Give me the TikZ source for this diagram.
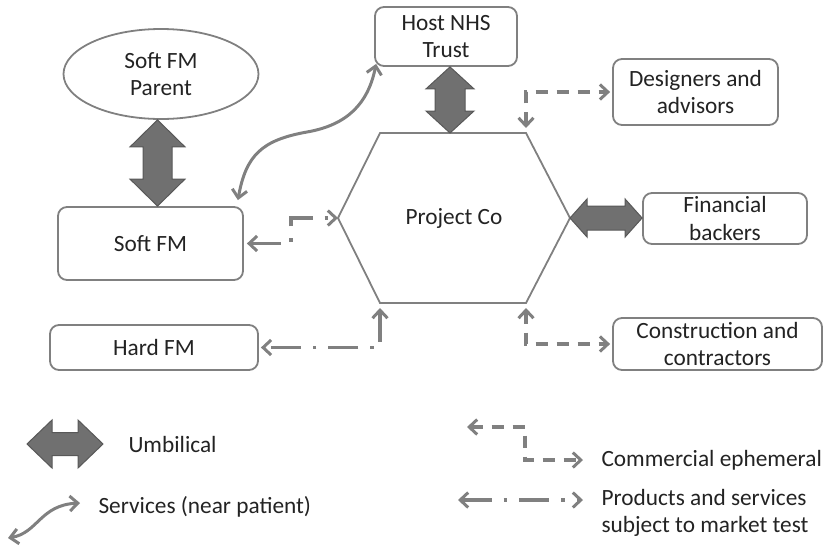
\documentclass[tikz,border=0pt]{standalone}
\usepackage{fontspec}
\setmainfont{Carlito}
\usetikzlibrary{arrows.meta,shapes.geometric,calc}
\definecolor{ln}{RGB}{128,128,128}
\definecolor{umbfill}{RGB}{112,112,112}
\definecolor{umbline}{RGB}{88,88,88}
\definecolor{txt}{RGB}{35,35,35}

% vertical double block arrow: #1 top point, #2 bottom point (y only),
% #3 half shaft width, #4 half head width, #5 head length
\newcommand\umbV[5]{\path[umb] let \p1=#1, \p2=#2 in
  (\x1,\y1) -- (\x1+#4,\y1-#5) -- (\x1+#3,\y1-#5) -- (\x1+#3,\y2+#5)
  -- (\x1+#4,\y2+#5) -- (\x1,\y2) -- (\x1-#4,\y2+#5) -- (\x1-#3,\y2+#5)
  -- (\x1-#3,\y1-#5) -- (\x1-#4,\y1-#5) -- cycle;}
% horizontal double block arrow: #1 left point, #2 right point (x only)
\newcommand\umbH[5]{\path[umb] let \p1=#1, \p2=#2 in
  (\x1,\y1) -- (\x1+#5,\y1+#4) -- (\x1+#5,\y1+#3) -- (\x2-#5,\y1+#3)
  -- (\x2-#5,\y1+#4) -- (\x2,\y1) -- (\x2-#5,\y1-#4) -- (\x2-#5,\y1-#3)
  -- (\x1+#5,\y1-#3) -- (\x1+#5,\y1-#4) -- cycle;}

\tikzset{
  every node/.style={text=txt, font=\fontsize{23.3}{27.5}\selectfont},
  box/.style={draw=ln, line width=1.8pt, rounded corners=9pt, fill=white,
    align=center, inner sep=0pt},
  umb/.style={draw=umbline, fill=umbfill, line width=1pt, line join=miter},
  hexl/.style={draw=ln, line width=1.8pt},
  tipb/.tip={Straight Barb[length=8pt,width=15pt,line width=3pt]},
  ce/.style={draw=ln, line width=3.5pt, dash pattern=on 12pt off 9pt, {tipb}-{tipb}},
  pm/.style={draw=ln, line width=3.5pt, dash pattern=on 30pt off 12pt on 3.5pt off 12pt, {tipb}-{tipb}},
  sv/.style={draw=ln, line width=3pt, {tipb}-{tipb}},
}

\begin{document}
\begin{tikzpicture}[x=1pt,y=1pt]
\useasboundingbox (0,0) rectangle (826,-555);

% organisations
\node[draw=ln, line width=1.8pt, ellipse, minimum width=195pt, minimum height=90pt,
  inner sep=0pt, align=center] (par) at (161,-74) {Soft FM\\Parent};
\node[box, minimum width=185pt, minimum height=73pt] (soft) at (150.5,-243.5) {Soft FM};
\node[box, minimum width=142pt, minimum height=59pt] (host) at (446,-36.5) {Host NHS\\Trust};
\node[box, minimum width=165pt, minimum height=66pt] (des) at (695.5,-92) {Designers and\\advisors};
\node[box, minimum width=164pt, minimum height=51pt] (fin) at (725,-218.5) {Financial\\backers};
\node[box, minimum width=209pt, minimum height=52pt] (con) at (717.5,-344) {Construction and\\contractors};
\node[box, minimum width=208pt, minimum height=45pt] (hard) at (154,-347.5) {Hard FM};

% Project Co hexagon
\coordinate (hTL) at (380,-133);
\coordinate (hTR) at (526,-133);
\coordinate (hR)  at (570,-218);
\coordinate (hBR) at (526,-303);
\coordinate (hBL) at (380,-303);
\coordinate (hL)  at (338,-218);
\draw[hexl] (hTL) -- (hTR) -- (hR) -- (hBR) -- (hBL) -- (hL) -- cycle;
\node (pc) at (454,-218) {Project Co};

% umbilical links
\umbV{([xshift=-3.5pt]par.south)}{(soft.north)}{14.5pt}{27.5pt}{27pt}
\umbV{([xshift=4pt]host.south)}{(hTL)}{15pt}{24pt}{22pt}
\umbH{(hR)}{(fin.west)}{12pt}{19pt}{17pt}

% commercial ephemeral links
\draw[ce] ([yshift=5pt]hTR) |- ([xshift=-2pt]des.west);
\draw[ce] ([yshift=-5pt]hBR) |- ([xshift=-2pt]con.west);

% products and services subject to market test
\draw[pm] ([xshift=3pt]soft.east) -| ($(soft.east)!0.5!(hL)$) |- (hL);
\draw[pm] ([yshift=-5pt]hBL) |- ([xshift=2pt]hard.east);

% services (near patient)
\coordinate (sa) at ([shift={(-6pt,6pt)}]soft.north east);
\coordinate (sb) at ([shift={(2pt,3pt)}]host.south west);
\coordinate (sm) at ($(sa)!0.5!(sb)$);
\draw[sv] (sa) .. controls +(8,45) and +(-45,-8) .. (sm)
  .. controls +(40,7) and +(-8,-40) .. (sb);

% legend
\coordinate (lu1) at (27,-444);
\coordinate (lu2) at (103,-444);
\umbH{(lu1)}{(lu2)}{11.5pt}{24pt}{25pt}
\node[anchor=west] (lumb) at (125,-444) {Umbilical};

\coordinate (ls1) at (8,-538);
\coordinate (ls2) at (80,-503);
\draw[sv] (ls1) .. controls (38,-533) and (40,-505) .. (ls2);
\node[anchor=west] (lsv) at (95,-507) {Services (near patient)};

\coordinate (lc1) at (467,-427);
\coordinate (lc2) at (583,-460);
\draw[ce] (lc1) -| ($(lc1)!0.5!(lc2)$) |- (lc2);
\node[anchor=west] (lce) at (598,-460) {Commercial ephemeral};

\coordinate (lp1) at (458,-500);
\coordinate (lp2) at (583,-500);
\draw[pm] (lp1) -- (lp2);
\node[anchor=west, align=left] (lpm) at (598,-513) {Products and services\\subject to market test};
\end{tikzpicture}
\end{document}
